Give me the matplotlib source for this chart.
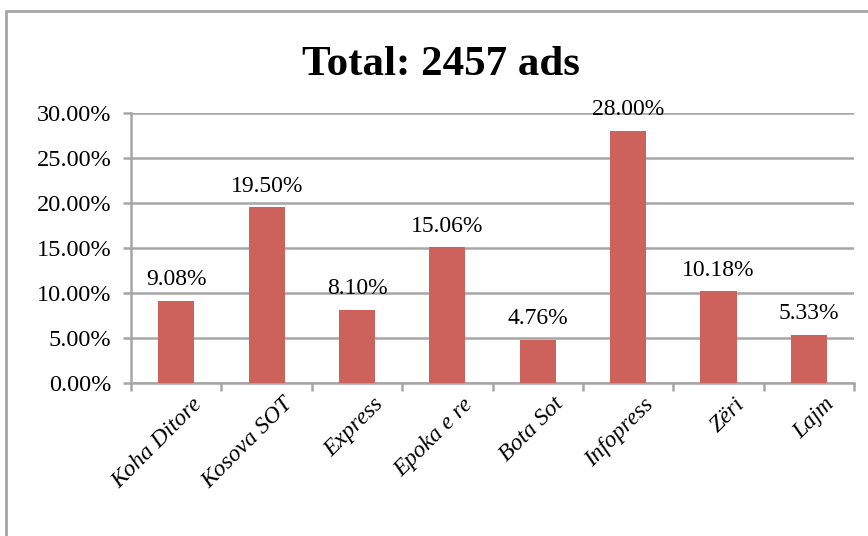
import numpy as np
import matplotlib
matplotlib.use("Agg")
import matplotlib.pyplot as plt
from matplotlib.patches import Rectangle
from matplotlib.ticker import FuncFormatter, MultipleLocator
import matplotlib.transforms as mtransforms

papers = ["Koha Ditore", "Kosova SOT", "Express", "Epoka e re", "Bota Sot",
          "Infopress", "Zëri", "Lajm"]
shares = [9.08, 19.50, 8.10, 15.06, 4.76, 28.00, 10.18, 5.33]
title = "Total: 2457 ads"

plt.rcParams['font.family'] = ['Liberation Serif', 'DejaVu Serif']

fig = plt.figure(figsize=(8.68, 5.36), dpi=100)
# outer chart frame (Excel style)
fig.patches.append(Rectangle((0.007, -0.05), 1.1, 1.0295, transform=fig.transFigure,
                             fill=False, edgecolor='#a6a6a6', linewidth=2))

ax = fig.add_axes([0.151, 0.2854, 0.833, 0.504])
x = np.arange(len(papers))
ax.bar(x, shares, width=0.4, color='#cd625d', zorder=3)
for xi, v in zip(x, shares):
    ax.text(xi, v + 1.2, f"{v:.2f}%", ha='center', va='bottom', fontsize=17, zorder=4)

ax.set_xlim(-0.5, len(papers) - 0.5)
ax.set_ylim(0, 30)
ax.yaxis.set_major_locator(MultipleLocator(5))
ax.yaxis.set_major_formatter(FuncFormatter(lambda v, p: f"{v:.2f}%"))
ax.grid(axis='y', color='#a6a6a6', linewidth=1.8, zorder=0)
for s in ['top', 'right']:
    ax.spines[s].set_visible(False)
for s in ['left', 'bottom']:
    ax.spines[s].set_color('#a6a6a6')
    ax.spines[s].set_linewidth(1.8)
ax.tick_params(axis='y', length=6, width=1.8, color='#a6a6a6', labelsize=17.5, pad=8)

ax.set_xticks(np.arange(len(papers) + 1) - 0.5, minor=False)
ax.set_xticklabels([])
ax.tick_params(axis='x', length=6, width=1.8, color='#a6a6a6')
for xi, name in zip(x, papers):
    ax.text(xi + 0.17, -0.04, name, transform=mtransforms.blended_transform_factory(ax.transData, ax.transAxes),
            rotation=45, ha='right', va='top', rotation_mode='anchor',
            fontsize=17, style='italic')

fig.text(0.508, 0.878, title, ha='center', va='center', fontsize=31, fontweight='bold')

fig.savefig("out.png", dpi=100)
